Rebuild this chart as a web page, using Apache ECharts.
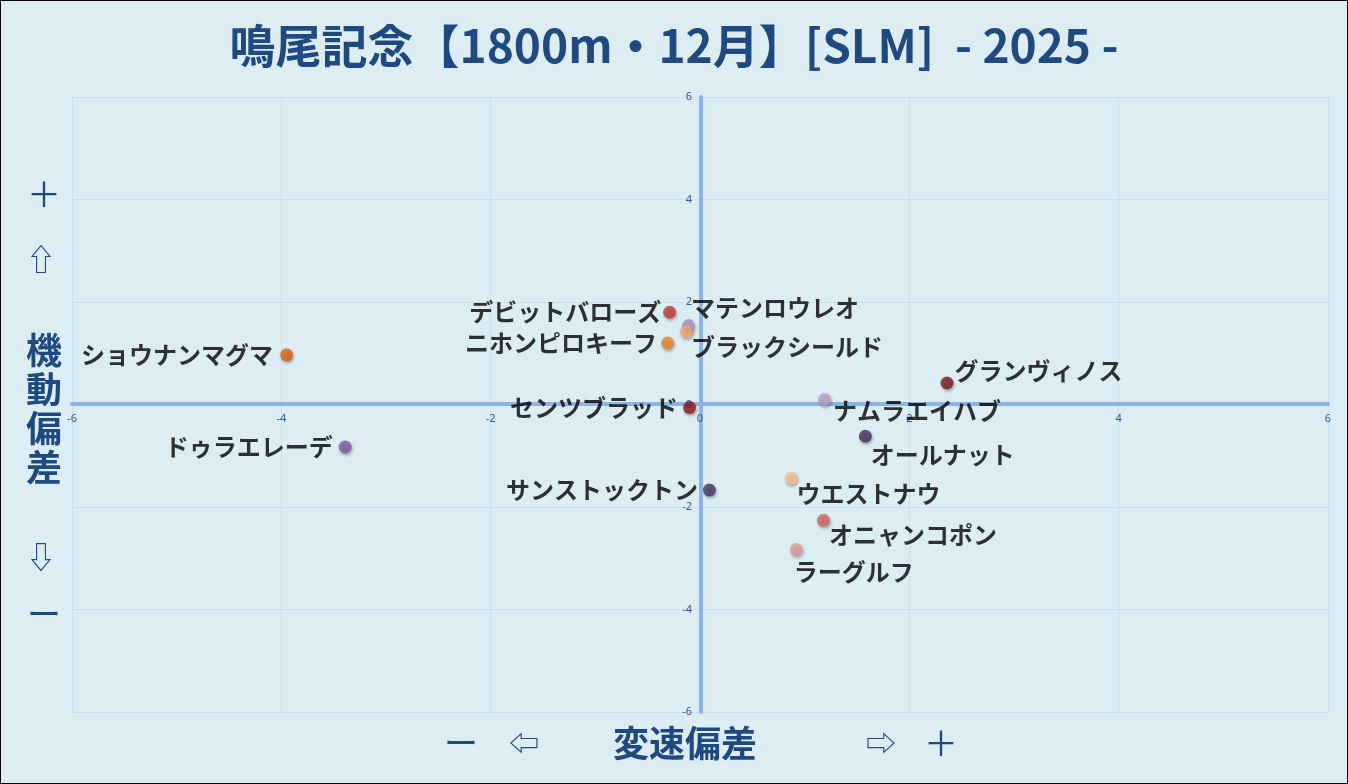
<!DOCTYPE html>
<html>
<head>
<meta charset="utf-8">
<script src="https://cdn.jsdelivr.net/npm/echarts@6/dist/echarts.min.js"></script>
<style>
  html, body { margin: 0; padding: 0; background: #dcedf4; }
  #main { width: 1348px; height: 784px; box-sizing: border-box; border: 1px solid #000; }
</style>
</head>
<body>
<div id="main"></div>
<script>
var horseNames = ['デビットバローズ', 'マテンロウレオ', 'ブラックシールド', 'ニホンピロキーフ', 'ショウナンマグマ',
    'センツブラッド', 'ドゥラエレーデ', 'グランヴィノス', 'ナムラエイハブ', 'オールナット',
    'サンストックトン', 'ウエストナウ', 'オニャンコポン', 'ラーグルフ'];
var speedDev = [-0.29, -0.11, -0.13, -0.31, -3.95, -0.10, -3.39, 2.36, 1.19, 1.58, 0.09, 0.87, 1.18, 0.92];
var moveDev  = [1.80, 1.54, 1.42, 1.20, 0.97, -0.06, -0.83, 0.42, 0.10, -0.62, -1.67, -1.44, -2.26, -2.83];
var dotColors = ['#c23a38', '#ab8fc6', '#f4a96a', '#ee8427', '#e0600e', '#8e1d1d', '#7f57a3',
    '#7a1a1a', '#b9a3cd', '#45305e', '#4b3462', '#f8bf8c', '#d46565', '#e09a98'];
var axisMin = -6, axisMax = 6, axisStep = 2;

// label placement per horse (left of dot, or right with a nudge)
var labelPlace = {
    'デビットバローズ': ['left', 0, 0],
    'マテンロウレオ': ['right', -6, -18],
    'ブラックシールド': ['right', -4, 15],
    'ニホンピロキーフ': ['left', -2, 0],
    'ショウナンマグマ': ['left', -5, 0],
    'センツブラッド': ['left', -3, 0],
    'ドゥラエレーデ': ['left', -4, 0],
    'グランヴィノス': ['right', -1, -12],
    'ナムラエイハブ': ['right', 0, 11],
    'オールナット': ['right', -3, 19],
    'サンストックトン': ['left', -3, 0],
    'ウエストナウ': ['right', -3, 16],
    'オニャンコポン': ['right', -3, 15],
    'ラーグルフ': ['right', -11, 22]
};

var points = horseNames.map(function (name, i) {
    var p = labelPlace[name];
    return {
        name: name,
        value: [speedDev[i], moveDev[i]],
        itemStyle: { color: dotColors[i] },
        label: { position: p[0], offset: [p[1], p[2]] }
    };
});

var blue = '#1f4a7f';
var sideTexts = [
    { t: '＋', x: 43, y: 193, s: 34, w: 'normal' },
    { t: '⇧', x: 40, y: 258, s: 30, w: 'normal' },
    { t: '機', x: 43, y: 349, s: 36, w: 'bold' },
    { t: '動', x: 43, y: 388, s: 36, w: 'bold' },
    { t: '偏', x: 43, y: 427, s: 36, w: 'bold' },
    { t: '差', x: 43, y: 466, s: 36, w: 'bold' },
    { t: '⇩', x: 40, y: 556, s: 30, w: 'normal' },
    { t: 'ー', x: 43, y: 613, s: 34, w: 'normal' },
    { t: 'ー', x: 460, y: 742, s: 34, w: 'normal' },
    { t: '⇦', x: 523, y: 742, s: 30, w: 'normal' },
    { t: '変速偏差', x: 684, y: 742, s: 36, w: 'bold' },
    { t: '⇨', x: 880, y: 742, s: 30, w: 'normal' },
    { t: '＋', x: 940, y: 742, s: 34, w: 'normal' }
];

var grid = { left: 71, right: 19, top: 96, bottom: 71 };
var chartW = 1348, chartH = 784;
// shift the axes (line + labels) onto the zero cross
var yShift = -(chartW - grid.left - grid.right) / 2;
var xShift = -(chartH - grid.top - grid.bottom) / 2;

var myChart = echarts.init(document.getElementById('main'));
var option = {
    backgroundColor: '#dcedf4',
    animation: false,
    title: {
        text: '鳴尾記念【1800m・12月】[SLM]  - 2025 -',
        left: 'center',
        top: 17,
        textStyle: {
            color: blue,
            fontSize: 46,
            fontWeight: 'bold',
            fontFamily: "'Noto Sans CJK JP', sans-serif"
        }
    },
    grid: grid,
    xAxis: {
        type: 'value',
        min: axisMin, max: axisMax, interval: axisStep,
        position: 'bottom',
        offset: xShift,
        axisLine: { onZero: false, lineStyle: { color: '#8db4e3', width: 4 } },
        axisTick: { show: false },
        axisLabel: { color: '#2b5a8c', fontSize: 11, margin: 10, fontFamily: 'Noto Sans' },
        splitLine: { lineStyle: { color: '#cadff0', width: 1 } }
    },
    yAxis: {
        type: 'value',
        min: axisMin, max: axisMax, interval: axisStep,
        position: 'left',
        offset: yShift,
        axisLine: { onZero: false, lineStyle: { color: '#8db4e3', width: 4 } },
        axisTick: { show: false },
        axisLabel: { color: '#2b5a8c', fontSize: 11, margin: 9, fontFamily: 'Noto Sans' },
        splitLine: { lineStyle: { color: '#cadff0', width: 1 } }
    },
    graphic: sideTexts.map(function (d) {
        return {
            type: 'text',
            x: d.x, y: d.y,
            style: {
                text: d.t,
                fill: blue,
                font: d.w + ' ' + d.s + "px 'Noto Sans CJK JP', 'DejaVu Sans', sans-serif",
                align: 'center',
                verticalAlign: 'middle'
            }
        };
    }),
    series: [{
        type: 'scatter',
        symbolSize: 13,
        data: points,
        itemStyle: {
            shadowBlur: 3,
            shadowOffsetX: 1,
            shadowOffsetY: 2,
            shadowColor: 'rgba(0,0,0,0.35)'
        },
        label: {
            show: true,
            formatter: '{b}',
            distance: 2,
            color: '#000',
            fontSize: 24,
            fontWeight: 'bold',
            fontFamily: "'Noto Sans CJK JP', sans-serif",
            textShadowColor: 'rgba(110,60,10,0.6)',
            textShadowBlur: 0,
            textShadowOffsetX: 1,
            textShadowOffsetY: 1
        }
    }]
};
myChart.setOption(option);
</script>
</body>
</html>
